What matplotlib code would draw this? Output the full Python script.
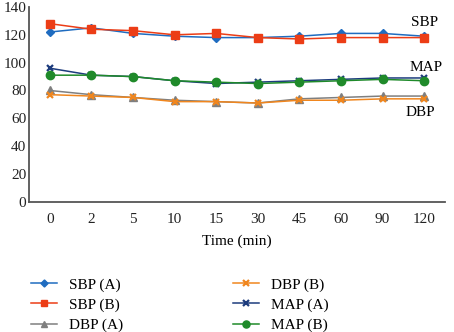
import matplotlib
matplotlib.use("Agg")
import matplotlib.pyplot as plt

plt.rcParams['font.family'] = ['Liberation Serif', 'DejaVu Serif']

times = ["0", "2", "5", "10", "15", "30", "45", "60", "90", "120"]
sbp_a = [122, 125, 121, 119, 118, 118, 119, 121, 121, 119]
sbp_b = [128, 124, 123, 120, 121, 118, 117, 118, 118, 118]
dbp_a = [80, 77, 75, 73, 72, 71, 74, 75, 76, 76]
dbp_b = [77, 76, 75, 72, 72, 71, 73, 73, 74, 74]
map_a = [96, 91, 90, 87, 85, 86, 87, 88, 89, 89]
map_b = [91, 91, 90, 87, 86, 85, 86, 87, 88, 87]

fig = plt.figure(figsize=(4.54, 3.32), dpi=100)
ax = fig.add_axes([0.064, 0.392, 0.916, 0.587])
x = list(range(len(times)))

series = [
    ("SBP (A)", sbp_a, "#1f6cc0", "D", 4.2),
    ("SBP (B)", sbp_b, "#ec3d16", "s", 5.5),
    ("DBP (A)", dbp_a, "#7f7f7f", "^", 5.5),
    ("DBP (B)", dbp_b, "#f0861e", "x", 5),
    ("MAP (A)", map_a, "#1d3c7d", "x", 5),
    ("MAP (B)", map_b, "#1f8a2a", "o", 6),
]
handles = []
for label, vals, col, mk, ms in series:
    kw = dict(color=col, marker=mk, markersize=ms, linewidth=1.1, label=label)
    if mk == "x":
        kw["markeredgewidth"] = 1.6
    h, = ax.plot(x, vals, **kw)
    handles.append(h)

ax.set_xlim(-0.5, 9.5)
ax.set_ylim(0, 140)
ax.set_yticks(range(0, 141, 20))
ax.set_xticks(x)
ax.set_xticklabels(times)
ax.tick_params(length=0, labelsize=11, colors="#222222")
ax.tick_params(axis='x', pad=8)
ax.tick_params(axis='y', pad=2)
for s in ["top", "right"]:
    ax.spines[s].set_visible(False)
for s in ["left", "bottom"]:
    ax.spines[s].set_color("#555555")
    ax.spines[s].set_linewidth(1.3)
ax.set_xlabel("Time (min)", fontsize=11, labelpad=6)

ax.text(9.0, 124, "SBP", fontsize=11, ha="center", va="bottom")
ax.text(9.05, 92, "MAP", fontsize=11, ha="center", va="bottom")
ax.text(8.9, 69, "DBP", fontsize=11, ha="center", va="top")

fig.legend(handles=handles, loc="lower left", bbox_to_anchor=(0.037, -0.042),
           ncol=2, frameon=False, fontsize=11, columnspacing=7.2,
           handlelength=1.7, handletextpad=0.8, labelspacing=0.42,
           markerscale=0.85)

fig.savefig("out.png", dpi=100)
